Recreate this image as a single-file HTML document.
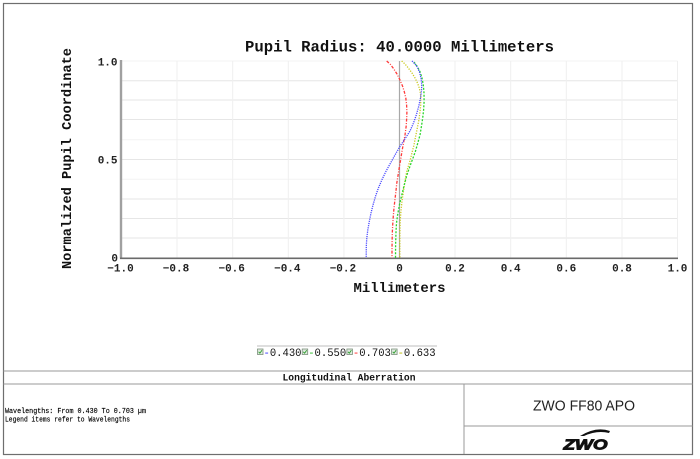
<!DOCTYPE html>
<html>
<head>
<meta charset="utf-8">
<style>
html,body{margin:0;padding:0;background:#fff;}
svg{display:block;}
</style>
</head>
<body>
<svg width="700" height="459" viewBox="0 0 700 459" xmlns="http://www.w3.org/2000/svg">
  <rect x="0" y="0" width="700" height="459" fill="#fff"/>
  <!-- outer frame -->
  <rect x="3.5" y="3.5" width="689" height="451" fill="none" stroke="#6e6e6e" stroke-width="1.2"/>
  <!-- bottom section dividers -->
  <line x1="3.5" y1="371" x2="692.5" y2="371" stroke="#9a9a9a" stroke-width="1"/>
  <line x1="3.5" y1="384" x2="692.5" y2="384" stroke="#9a9a9a" stroke-width="1"/>
  <line x1="464" y1="384" x2="464" y2="454" stroke="#9a9a9a" stroke-width="1"/>
  <line x1="464" y1="426" x2="692.5" y2="426" stroke="#9a9a9a" stroke-width="1"/>

  <!-- grid: horizontal -->
  <g stroke="#e6e6e6" stroke-width="1">
    <line x1="121" y1="80.7" x2="677.5" y2="80.7"/>
    <line x1="121" y1="100" x2="677.5" y2="100"/>
    <line x1="121" y1="119.5" x2="677.5" y2="119.5"/>
    <line x1="121" y1="159.5" x2="677.5" y2="159.5"/>
    <line x1="121" y1="199" x2="677.5" y2="199"/>
    <line x1="121" y1="218.5" x2="677.5" y2="218.5"/>
    <line x1="121" y1="238" x2="677.5" y2="238"/>
  </g>
  <g stroke="#f3f3f3" stroke-width="1">
    <line x1="121" y1="139.8" x2="677.5" y2="139.8"/>
    <line x1="121" y1="179.2" x2="677.5" y2="179.2"/>
    <line x1="121" y1="61" x2="677.5" y2="61"/>
  </g>
  <!-- grid: vertical -->
  <g stroke="#efefef" stroke-width="1">
    <line x1="177" y1="61" x2="177" y2="258"/>
    <line x1="232.7" y1="61" x2="232.7" y2="258"/>
    <line x1="288.3" y1="61" x2="288.3" y2="258"/>
    <line x1="343.9" y1="61" x2="343.9" y2="258"/>
    <line x1="455" y1="61" x2="455" y2="258"/>
    <line x1="510.7" y1="61" x2="510.7" y2="258"/>
    <line x1="566.3" y1="61" x2="566.3" y2="258"/>
    <line x1="622" y1="61" x2="622" y2="258"/>
    <line x1="677.5" y1="61" x2="677.5" y2="258"/>
  </g>
  <!-- zero line -->
  <line x1="399.5" y1="61" x2="399.5" y2="258" stroke="#a8a8a8" stroke-width="1.2"/>
  <!-- axes -->
  <line x1="121" y1="60" x2="121" y2="258.5" stroke="#a0a0a0" stroke-width="2.4"/>
  <line x1="120" y1="258.3" x2="678" y2="258.3" stroke="#6a6a6a" stroke-width="1.6"/>

  <!-- series -->
  <g fill="none" stroke-width="1.3" stroke-linejoin="round">
    <polyline stroke="#ff3b3b" stroke-dasharray="3 1.5 1 1.5" points="386.7,61 390.5,64.5 393.5,68.5 397,74 400,80 402.5,86 404.3,91.7 405.8,98 406.6,105 406.9,112 406.7,118 406.2,126 405,135 403.5,143 401.9,151.7 400.6,160 399.2,168 398.1,175 396.8,183 395.9,191.7 394.9,200 394,208 393.3,216 392.7,225 392.3,233 392.1,241.7 392,250 392,258"/>
    <polyline stroke="#c9c91c" stroke-dasharray="1.2 1.4" points="401.7,61 405,64 408.3,68 412,73 415,78 417.5,83 419.3,88 420.4,93 420.8,98 420.7,105 420,111.7 418.9,120 417.3,128 415.7,136 414,145 412.2,152 410.2,160 408.4,166 406.7,171.7 405,181 403.4,191.7 402,201 400.9,211.7 400.2,221 399.9,231.7 399.8,245 399.8,258"/>
    <polyline stroke="#2ad62a" stroke-dasharray="2 1.5" points="414,62 417.3,66.5 420,71.7 422,78 423.3,85 424,93 424.1,101.7 423.6,110 422.7,118 421.5,126 420,135 417.8,143 415.3,151.7 413.2,157.5 411.1,163 409,169 406.9,175 404.2,185 401.8,195 399.4,205 397.6,215 396.5,223 396,231.7 395.6,245 395.5,258"/>
    <polyline stroke="#4a4aff" stroke-dasharray="1.2 1" points="412,61 415,64 417.3,67 419.5,72 421,78 421.7,84 421.6,90 420.5,98 418.8,106 416.3,115 413.5,123 410,131 405.5,138 400.2,146 395,155 390,164 385.6,172 381.8,180 378.4,188 375.6,196 373,205 371,213 369.2,222 367.8,230 366.8,238 366.3,246 366.2,258"/>
  </g>

  <!-- title -->
  <text x="399.5" y="51.5" text-anchor="middle" font-family="Liberation Mono, monospace" font-weight="bold" font-size="15.5" fill="#111" textLength="309" lengthAdjust="spacingAndGlyphs">Pupil Radius: 40.0000 Millimeters</text>

  <!-- y tick labels -->
  <g font-family="Liberation Mono, monospace" font-weight="bold" font-size="11" fill="#222">
    <text x="117.5" y="65.5" text-anchor="end">1.0</text>
    <text x="117.5" y="163.5" text-anchor="end">0.5</text>
    <text x="118" y="261.5" text-anchor="end">0</text>
  </g>
  <!-- x tick labels -->
  <g font-family="Liberation Mono, monospace" font-weight="bold" font-size="11" fill="#222" text-anchor="middle">
    <text x="120.5" y="271.5">−1.0</text>
    <text x="176" y="271.5">−0.8</text>
    <text x="231.7" y="271.5">−0.6</text>
    <text x="287.3" y="271.5">−0.4</text>
    <text x="342.9" y="271.5">−0.2</text>
    <text x="399.5" y="271.5">0</text>
    <text x="455" y="271.5">0.2</text>
    <text x="510.7" y="271.5">0.4</text>
    <text x="566.3" y="271.5">0.6</text>
    <text x="622" y="271.5">0.8</text>
    <text x="677.5" y="271.5">1.0</text>
  </g>

  <!-- axis labels -->
  <text x="399.5" y="292" text-anchor="middle" font-family="Liberation Mono, monospace" font-weight="bold" font-size="14" fill="#111" textLength="92" lengthAdjust="spacingAndGlyphs">Millimeters</text>
  <text transform="translate(71,158.5) rotate(-90)" x="0" y="0" text-anchor="middle" font-family="Liberation Mono, monospace" font-weight="bold" font-size="13.6" fill="#111" textLength="221" lengthAdjust="spacingAndGlyphs">Normalized Pupil Coordinate</text>

  <!-- legend -->
  <line x1="257" y1="346" x2="437" y2="346" stroke="#bdbdbd" stroke-width="1"/>
  <g font-family="Liberation Mono, monospace" font-size="11" fill="#111">
    <g transform="translate(257,0)">
      <rect x="0.5" y="349" width="5.5" height="5.5" fill="#dfe9df" stroke="#7a8f7a" stroke-width="0.8"/>
      <path d="M1.6,351.8 L2.9,353.2 L5,350.2" fill="none" stroke="#2a9d2a" stroke-width="0.9"/>
      <text x="6.5" y="355.8" textLength="38" lengthAdjust="spacingAndGlyphs"><tspan fill="#3030ff">-</tspan>0.430</text>
    </g>
    <g transform="translate(301.7,0)">
      <rect x="0.5" y="349" width="5.5" height="5.5" fill="#dfe9df" stroke="#7a8f7a" stroke-width="0.8"/>
      <path d="M1.6,351.8 L2.9,353.2 L5,350.2" fill="none" stroke="#2a9d2a" stroke-width="0.9"/>
      <text x="6.5" y="355.8" textLength="38" lengthAdjust="spacingAndGlyphs"><tspan fill="#22bb22">-</tspan>0.550</text>
    </g>
    <g transform="translate(346.4,0)">
      <rect x="0.5" y="349" width="5.5" height="5.5" fill="#dfe9df" stroke="#7a8f7a" stroke-width="0.8"/>
      <path d="M1.6,351.8 L2.9,353.2 L5,350.2" fill="none" stroke="#2a9d2a" stroke-width="0.9"/>
      <text x="6.5" y="355.8" textLength="38" lengthAdjust="spacingAndGlyphs"><tspan fill="#ff2020">-</tspan>0.703</text>
    </g>
    <g transform="translate(391.1,0)">
      <rect x="0.5" y="349" width="5.5" height="5.5" fill="#dfe9df" stroke="#7a8f7a" stroke-width="0.8"/>
      <path d="M1.6,351.8 L2.9,353.2 L5,350.2" fill="none" stroke="#2a9d2a" stroke-width="0.9"/>
      <text x="6.5" y="355.8" textLength="38" lengthAdjust="spacingAndGlyphs"><tspan fill="#bbbb00">-</tspan>0.633</text>
    </g>
  </g>

  <!-- section title -->
  <text x="349" y="380.3" text-anchor="middle" font-family="Liberation Mono, monospace" font-weight="bold" font-size="9.7" fill="#111" textLength="133" lengthAdjust="spacingAndGlyphs">Longitudinal Aberration</text>

  <!-- notes -->
  <g font-family="Liberation Mono, monospace" font-size="7.2" fill="#000" stroke="#000" stroke-width="0.15">
    <text x="5" y="413" textLength="141" lengthAdjust="spacingAndGlyphs">Wavelengths: From 0.430 To 0.703 µm</text>
    <text x="5" y="421.5" textLength="125" lengthAdjust="spacingAndGlyphs">Legend items refer to Wavelengths</text>
  </g>

  <!-- right box -->
  <text x="584" y="410.5" text-anchor="middle" font-family="Liberation Sans, sans-serif" font-size="15" fill="#222" textLength="102" lengthAdjust="spacingAndGlyphs">ZWO FF80 APO</text>
  <!-- logo -->
  <path d="M580,436 Q596,426 610,431 L609,433 Q597,430 584,436 Z" fill="#111"/>
  <text x="585.5" y="449.5" text-anchor="middle" font-family="Liberation Sans, sans-serif" font-weight="bold" font-style="italic" font-size="15" fill="#111" stroke="#111" stroke-width="0.9" textLength="44" lengthAdjust="spacingAndGlyphs">ZWO</text>
</svg>
</body>
</html>
